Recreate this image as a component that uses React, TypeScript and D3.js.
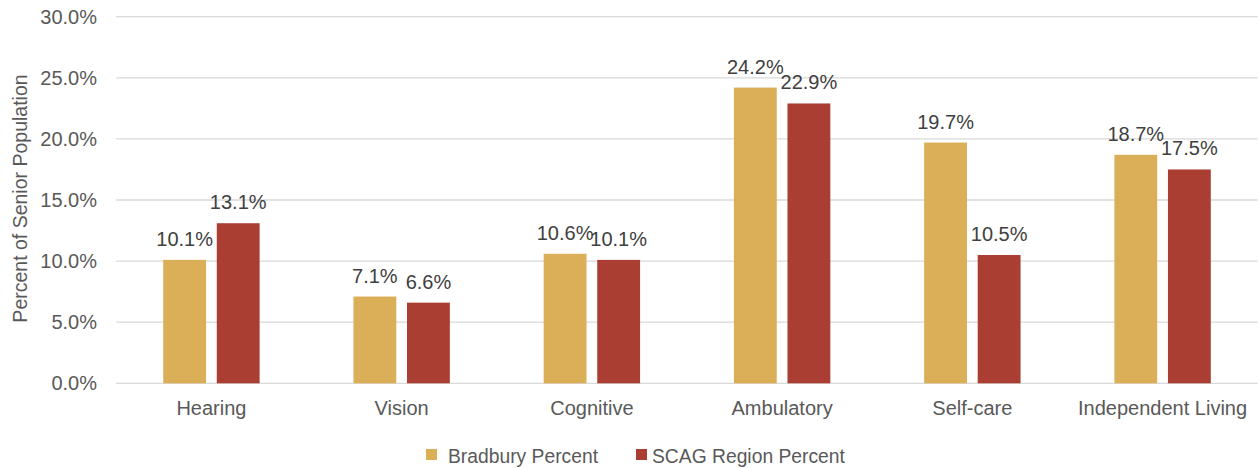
import React from "react";
import * as d3 from "d3";

const categories = ["Hearing", "Vision", "Cognitive", "Ambulatory", "Self-care", "Independent Living"];
const seriesNames = ["Bradbury Percent", "SCAG Region Percent"];
const bradbury = [10.1, 7.1, 10.6, 24.2, 19.7, 18.7];
const scag = [13.1, 6.6, 10.1, 22.9, 10.5, 17.5];
const yTicks = [0, 5, 10, 15, 20, 25, 30];
const colors = ["#DBAE58", "#AB3E33"];

const W = 1259;
const H = 468;
const FONT = "'Liberation Sans', Arial, sans-serif";

export default function App() {
  const x = d3.scaleBand<string>().domain(categories).range([116.3, 1257.7]).padding(0);
  const y = d3.scaleLinear().domain([0, 30]).range([383.3, 16.7]);
  const bw = x.bandwidth();
  const barW = bw / 4.44;
  const gap = barW * 0.25;
  const groupW = barW * 2 + gap;
  const inner = d3.scaleOrdinal<number, number>().domain([0, 1]).range([0, barW + gap]);
  const series = [bradbury, scag];
  const fmt = (v: number) => d3.format(".1f")(v) + "%";

  return (
    <svg
      width={W}
      height={H}
      style={{ position: "absolute", left: 0, top: 0, background: "#fff" }}
      fontFamily={FONT}
    >
      {yTicks.map((t) => (
        <g key={t}>
          <line x1={116.3} x2={1257.7} y1={y(t)} y2={y(t)} stroke="#D9D9D9" strokeWidth={1.3} />
          <text x={97} y={y(t)} dy="0.35em" textAnchor="end" fontSize={20} fill="#595959">
            {fmt(t)}
          </text>
        </g>
      ))}
      <text
        transform={`translate(26.5,198.5) rotate(-90)`}
        textAnchor="middle"
        fontSize={19.5}
        fill="#595959"
      >
        Percent of Senior Population
      </text>
      {categories.map((c, i) => {
        const x0 = (x(c) as number) + bw / 2 - groupW / 2;
        return (
          <g key={c}>
            {series.map((s, si) => (
              <rect
                key={si}
                x={x0 + inner(si)}
                y={y(s[i])}
                width={barW}
                height={y(0) - y(s[i])}
                fill={colors[si]}
              />
            ))}
            {series.map((s, si) => (
              <text
                key={"l" + si}
                x={x0 + inner(si) + barW / 2}
                y={y(s[i]) - 14}
                textAnchor="middle"
                fontSize={20}
                fill="#404040"
              >
                {fmt(s[i])}
              </text>
            ))}
            <text x={(x(c) as number) + bw / 2} y={415} textAnchor="middle" fontSize={20} fill="#595959">
              {c}
            </text>
          </g>
        );
      })}
      {seriesNames.map((n, i) => {
        const lx = [426, 636][i];
        const tx = [448, 652][i];
        return (
          <g key={n}>
            <rect x={lx} y={449} width={11} height={11} fill={colors[i]} />
            <text x={tx} y={463} fontSize={19.3} fill="#595959">
              {n}
            </text>
          </g>
        );
      })}
    </svg>
  );
}
